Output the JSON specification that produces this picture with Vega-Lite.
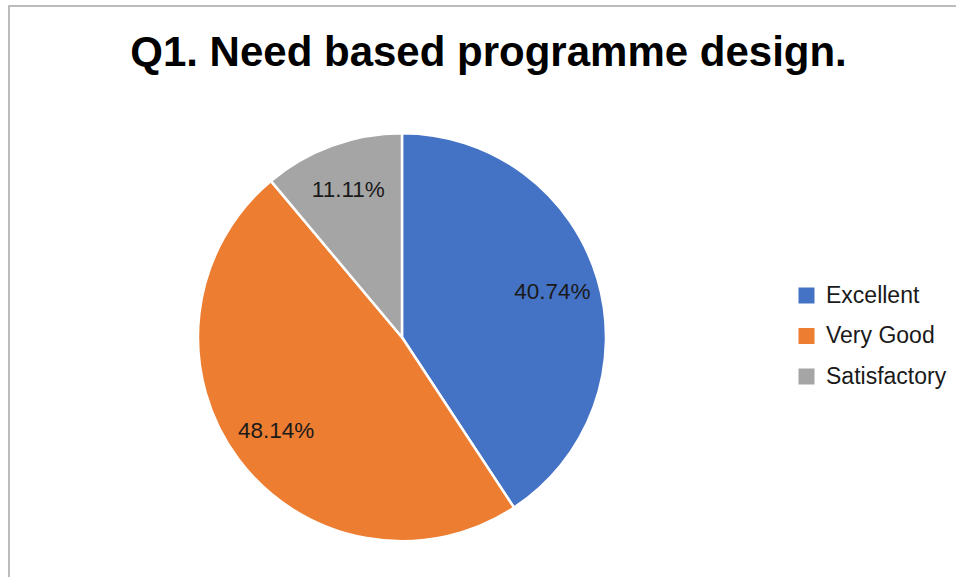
{
  "$schema": "https://vega.github.io/schema/vega-lite/v6.json",
  "autosize": "none",
  "width": 949,
  "height": 573,
  "padding": {"left": 9, "top": 6, "right": -2, "bottom": -2},
  "background": "white",
  "view": {"stroke": "#a6a6a6", "strokeWidth": 1.5},
  "config": {"view": {"stroke": "#a6a6a6", "strokeWidth": 1.5}},
  "title": {
    "text": "Q1. Need based programme design.",
    "font": "Liberation Sans",
    "fontWeight": "bold",
    "fontSize": 42,
    "color": "#000000",
    "anchor": "middle",
    "baseline": "alphabetic",
    "dx": 5,
    "dy": 37,
    "offset": -65
  },
  "data": {
    "values": [
      {"category": "Excellent", "value": 40.74, "label": "40.74%", "idx": 1},
      {"category": "Very Good", "value": 48.14, "label": "48.14%", "idx": 2},
      {"category": "Satisfactory", "value": 11.11, "label": "11.11%", "idx": 3}
    ]
  },
  "encoding": {
    "theta": {"field": "value", "type": "quantitative", "stack": true},
    "order": {"field": "idx", "type": "quantitative"}
  },
  "layer": [
    {
      "mark": {"type": "arc", "radius": 204, "stroke": "white", "strokeWidth": 2.5, "x": {"expr": "width*0.4141"}, "y": {"expr": "height*0.578"}},
      "encoding": {
        "color": {
          "field": "category",
          "type": "nominal",
          "scale": {"domain": ["Excellent", "Very Good", "Satisfactory"], "range": ["#4472C4", "#ED7D31", "#A5A5A5"]},
          "legend": {
            "orient": "none",
            "legendX": 786,
            "legendY": 278,
            "padding": 0,
            "title": null,
            "symbolType": "square",
            "symbolSize": 256,
            "symbolStrokeWidth": 0,
            "labelFont": "Liberation Sans",
            "labelFontSize": 23,
            "labelColor": "#1a1a1a",
            "labelOffset": 8,
            "rowPadding": 16.5
          }
        }
      }
    },
    {
      "mark": {"type": "text", "radius": 157, "font": "Liberation Sans", "fontSize": 22.5, "color": "#1a1a1a", "x": {"expr": "width*0.4141"}, "y": {"expr": "height*0.578"}},
      "encoding": {
        "text": {"field": "label", "type": "nominal"}
      }
    }
  ]
}
